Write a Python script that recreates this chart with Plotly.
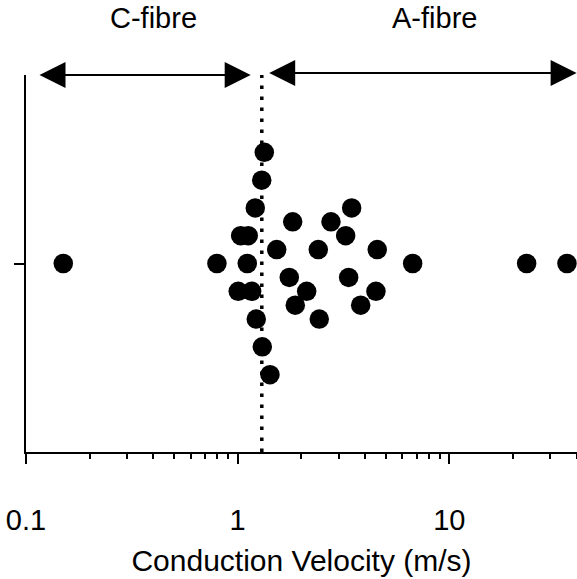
import plotly.graph_objects as go

# Conduction velocities (m/s) and vertical scatter offsets (row index)
velocity = [0.150, 0.798, 1.110, 1.033, 1.122, 1.006, 1.164, 1.211, 1.299, 1.336,
            1.224, 1.307, 1.421, 1.819, 2.759, 3.455, 3.237, 1.529, 2.403, 4.564,
            6.709, 23.18, 35.94, 1.753, 3.344, 2.118, 4.500, 1.871, 3.811, 2.429]
row = [0, 0, 0, 2, 2, -2, -2, 4, 6, 8,
       -4, -6, -8, 3, 3, 4, 2, 1, 1, 1,
       0, 0, 0, -1, -1, -2, -2, -3, -3, -4]

cv_threshold = 1.3
x_tickvals = [0.1, 1, 10]
x_ticktext = ["0.1", "1", "10"]
x_minor = [0.2, 0.3, 0.4, 0.5, 0.6, 0.7, 0.8, 0.9,
           2, 3, 4, 5, 6, 7, 8, 9, 20, 30, 40]
group_labels = ["C-fibre", "A-fibre"]

FONT = "Liberation Sans, Arial, sans-serif"
Y_HALF = 13.57

fig = go.Figure()
fig.add_trace(go.Scatter(
    x=velocity, y=row, mode="markers",
    marker=dict(size=19.5, color="black", line=dict(width=0)),
    cliponaxis=False, showlegend=False, hoverinfo="x",
))

# threshold dotted line
fig.add_shape(type="line", xref="x", yref="paper",
              x0=cv_threshold, x1=cv_threshold, y0=0, y1=1,
              line=dict(color="black", width=3.5, dash="3.5px,7.5px"))

# double-headed arrows (x in log10 units for annotation coordinates)
arrow_style = dict(xref="x", yref="paper", axref="x", ayref="pixel", ay=0, text="",
                   showarrow=True, arrowhead=2, startarrowhead=2,
                   arrowside="end+start", arrowsize=2.6, startarrowsize=2.6,
                   arrowwidth=2, arrowcolor="black", standoff=0, startstandoff=0)
fig.add_annotation(x=0.0614, ax=-0.9433, y=1.0, **arrow_style)
fig.add_annotation(x=1.6013, ax=0.1417, y=1.005, **arrow_style)

for lbl, xp in zip(group_labels, [0.232, 0.7405]):
    fig.add_annotation(x=xp, y=1.151, xref="paper", yref="paper",
                       text=lbl, showarrow=False, xanchor="center", yanchor="middle",
                       font=dict(family=FONT, size=29, color="black"))

fig.update_xaxes(
    type="log", range=[-1, 1.603],
    tickmode="array", tickvals=x_tickvals, ticktext=x_ticktext,
    ticks="outside", ticklen=10, tickwidth=2, tickcolor="black",
    showline=True, linewidth=2, linecolor="black",
    showgrid=False, zeroline=False,
    tickfont=dict(family=FONT, size=29, color="black"),
    ticklabelstandoff=31,
    minor=dict(tickmode="array", tickvals=x_minor, ticks="outside",
               ticklen=5, tickwidth=2, tickcolor="black", showgrid=False),
    title=dict(text="Conduction Velocity (m/s)",
               font=dict(family=FONT, size=30, color="black"), standoff=15),
)
fig.update_yaxes(
    range=[-Y_HALF, Y_HALF], tickmode="array", tickvals=[0], ticktext=[""],
    ticks="outside", ticklen=10, tickwidth=2, tickcolor="black",
    showline=True, linewidth=2, linecolor="black",
    showgrid=False, zeroline=False,
)
fig.update_layout(
    width=577, height=579,
    margin=dict(l=26, r=0, t=75, b=127, pad=0),
    paper_bgcolor="white", plot_bgcolor="white",
    font=dict(family=FONT, color="black"),
)
fig.write_html("out.html")
